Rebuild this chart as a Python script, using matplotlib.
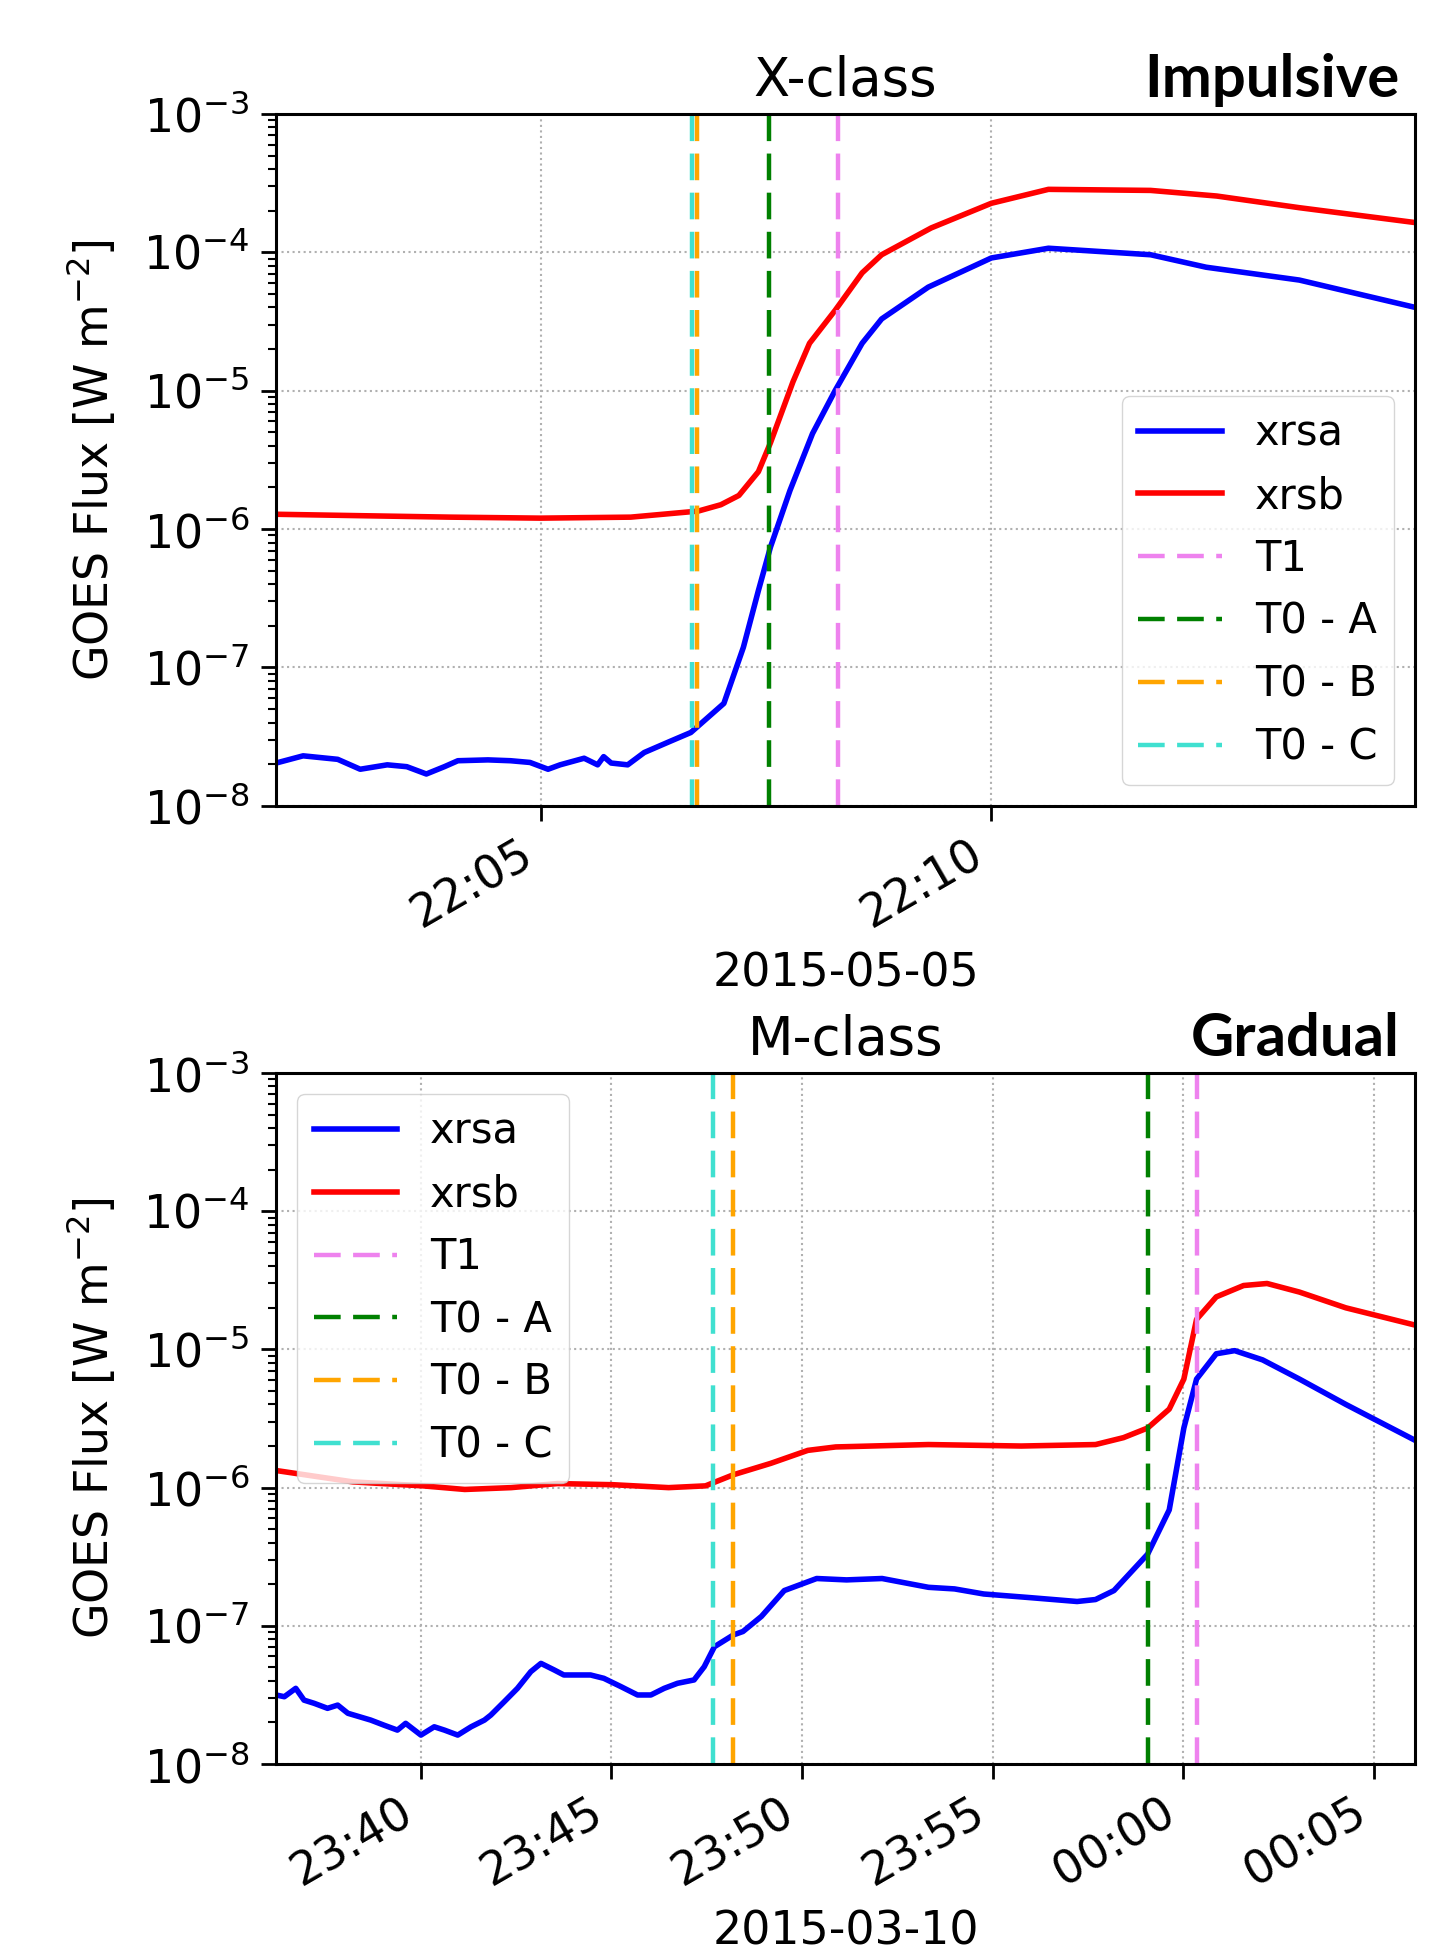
import matplotlib
matplotlib.use("Agg")
import matplotlib.pyplot as plt
import matplotlib.dates as mdates
import pandas as pd

# --- X-class (impulsive) flare, 2015-05-05 ---
top_a_time = ["22:02:04", "22:02:22", "22:02:45", "22:03:00", "22:03:18", "22:03:31",
              "22:03:44", "22:03:56", "22:04:05", "22:04:25", "22:04:40", "22:04:53",
              "22:05:05", "22:05:13", "22:05:29", "22:05:38", "22:05:42", "22:05:47",
              "22:05:58", "22:06:09", "22:06:26", "22:06:40", "22:07:02", "22:07:15",
              "22:07:25", "22:07:33", "22:07:46", "22:08:01", "22:08:16", "22:08:34",
              "22:08:47", "22:09:18", "22:10:00", "22:10:38", "22:11:46", "22:12:23",
              "22:13:25", "22:14:42"]
top_xrsa = [2.04e-8, 2.30e-8, 2.17e-8, 1.84e-8, 1.98e-8, 1.92e-8,
            1.70e-8, 1.92e-8, 2.12e-8, 2.15e-8, 2.12e-8, 2.06e-8,
            1.84e-8, 1.98e-8, 2.21e-8, 1.98e-8, 2.27e-8, 2.04e-8,
            1.98e-8, 2.43e-8, 2.92e-8, 3.39e-8, 5.5e-8, 1.4e-7,
            3.6e-7, 7.4e-7, 1.9e-6, 4.9e-6, 1.0e-5, 2.2e-5,
            3.3e-5, 5.6e-5, 9.1e-5, 1.07e-4, 9.6e-5, 7.8e-5,
            6.3e-5, 4.0e-5]

top_b_time = ["22:02:04", "22:03:00", "22:04:00", "22:05:00", "22:06:00", "22:06:45",
              "22:07:00", "22:07:12", "22:07:25", "22:07:33", "22:07:48", "22:07:59",
              "22:08:16", "22:08:34", "22:08:47", "22:09:20", "22:10:00", "22:10:38",
              "22:11:46", "22:12:30", "22:13:25", "22:14:42"]
top_xrsb = [1.28e-6, 1.25e-6, 1.22e-6, 1.2e-6, 1.22e-6, 1.35e-6,
            1.5e-6, 1.75e-6, 2.6e-6, 4.2e-6, 1.16e-5, 2.2e-5,
            3.8e-5, 7.1e-5, 9.6e-5, 1.5e-4, 2.26e-4, 2.85e-4,
            2.8e-4, 2.55e-4, 2.1e-4, 1.64e-4]

top_marks = ["22:08:18", "22:07:32", "22:06:44", "22:06:41"]  # T1, T0-A, T0-B, T0-C
top_xlim = ["22:02:04", "22:14:42"]

# --- M-class (gradual) flare, 2015-03-10 ---
bot_a_time = ["23:36:12", "23:36:25", "23:36:43", "23:36:56", "23:37:12", "23:37:33",
              "23:37:49", "23:38:05", "23:38:41", "23:39:02", "23:39:23", "23:39:36",
              "23:40:00", "23:40:21", "23:40:37", "23:40:58", "23:41:19", "23:41:40",
              "23:41:50", "23:42:11", "23:42:32", "23:42:53", "23:43:09", "23:43:30",
              "23:43:45", "23:44:27", "23:44:48", "23:45:15", "23:45:41", "23:46:02",
              "23:46:23", "23:46:44", "23:47:10", "23:47:26", "23:47:42", "23:48:12",
              "23:48:27", "23:48:56", "23:49:32", "23:50:23", "23:51:10", "23:52:06",
              "23:53:19", "23:54:00", "23:54:46", "23:55:59", "23:57:13", "23:57:42",
              "23:58:11", "23:59:04", "23:59:38", "00:00:01", "00:00:21", "00:00:52",
              "00:01:21", "00:02:05", "00:03:03", "00:04:16", "00:06:05"]
bot_xrsa = [3.16e-8, 3.07e-8, 3.53e-8, 2.90e-8, 2.75e-8, 2.53e-8,
            2.67e-8, 2.33e-8, 2.08e-8, 1.91e-8, 1.76e-8, 1.97e-8,
            1.62e-8, 1.86e-8, 1.76e-8, 1.62e-8, 1.86e-8, 2.08e-8,
            2.26e-8, 2.82e-8, 3.53e-8, 4.66e-8, 5.35e-8, 4.79e-8,
            4.41e-8, 4.41e-8, 4.17e-8, 3.63e-8, 3.16e-8, 3.16e-8,
            3.53e-8, 3.84e-8, 4.06e-8, 5.06e-8, 7.06e-8, 8.6e-8,
            9.1e-8, 1.17e-7, 1.8e-7, 2.2e-7, 2.15e-7, 2.2e-7,
            1.9e-7, 1.85e-7, 1.7e-7, 1.6e-7, 1.5e-7, 1.55e-7,
            1.8e-7, 3.3e-7, 6.9e-7, 2.7e-6, 6.1e-6, 9.3e-6,
            9.8e-6, 8.4e-6, 6.1e-6, 4.0e-6, 2.2e-6]

bot_b_time = ["23:36:12", "23:38:13", "23:40:03", "23:41:09", "23:42:22", "23:43:35",
              "23:45:02", "23:46:30", "23:47:28", "23:48:12", "23:49:11", "23:50:09",
              "23:50:53", "23:53:19", "23:55:45", "23:57:42", "23:58:26", "23:59:04",
              "23:59:38", "00:00:01", "00:00:21", "00:00:52", "00:01:35", "00:02:12",
              "00:03:03", "00:04:16", "00:06:05"]
bot_xrsb = [1.33e-6, 1.1e-6, 1.03e-6, 9.7e-7, 1.0e-6, 1.07e-6,
            1.05e-6, 1.0e-6, 1.03e-6, 1.24e-6, 1.5e-6, 1.86e-6,
            1.97e-6, 2.05e-6, 2.0e-6, 2.05e-6, 2.3e-6, 2.7e-6,
            3.7e-6, 6.1e-6, 1.65e-5, 2.4e-5, 2.9e-5, 3.0e-5,
            2.6e-5, 2.0e-5, 1.5e-5]

bot_marks = ["00:00:21", "23:59:04", "23:48:11", "23:47:40"]
bot_xlim = ["23:36:12", "00:06:05"]

mark_labels = ["T1", "T0 - A", "T0 - B", "T0 - C"]
mark_colors = ["violet", "green", "orange", "turquoise"]


def to_dt(times, day, prev_day=None):
    out = []
    for t in times:
        d = prev_day if (prev_day is not None and t.startswith("23")) else day
        out.append(pd.Timestamp(d + " " + t).to_pydatetime())
    return out


plt.rcParams['font.family'] = ['DejaVu Sans']
plt.rcParams['font.size'] = 30

fig = plt.figure(figsize=(14.53, 19.57), dpi=100)
ax1 = fig.add_axes([0.190, 0.5882, 0.7839, 0.3536])
ax2 = fig.add_axes([0.190, 0.0986, 0.7839, 0.3531])

panels = [
    (ax1, to_dt(top_a_time, "2015-05-05"), top_xrsa, to_dt(top_b_time, "2015-05-05"), top_xrsb,
     to_dt(top_marks, "2015-05-05"), to_dt(top_xlim, "2015-05-05"),
     "X-class", "Impulsive", "2015-05-05", "lower right"),
    (ax2, to_dt(bot_a_time, "2015-03-10", "2015-03-09"), bot_xrsa,
     to_dt(bot_b_time, "2015-03-10", "2015-03-09"), bot_xrsb,
     to_dt(bot_marks, "2015-03-10", "2015-03-09"), to_dt(bot_xlim, "2015-03-10", "2015-03-09"),
     "M-class", "Gradual", "2015-03-10", "upper left"),
]

for ax, ta, fa, tb, fb, marks, xlim, title, kind, date, loc in panels:
    ax.plot(ta, fa, color="blue", lw=4, label="xrsa")
    ax.plot(tb, fb, color="red", lw=4, label="xrsb")
    for m, lab, col in zip(marks, mark_labels, mark_colors):
        ax.axvline(m, color=col, lw=3.2, linestyle="--", dashes=(6, 2.8), label=lab)
    ax.set_yscale("log")
    ax.set_ylim(1e-8, 1e-3)
    ax.set_xlim(xlim[0], xlim[1])
    ax.xaxis.set_major_locator(mdates.MinuteLocator(byminute=range(0, 60, 5)))
    ax.xaxis.set_major_formatter(mdates.DateFormatter("%H:%M"))
    ax.grid(True, which="major", linestyle=":", color="#b0b0b0", lw=1.5)
    ax.tick_params(axis="both", which="major", length=11, width=2, pad=8, labelsize=33)
    ax.tick_params(axis="y", which="minor", length=6, width=1.5)
    for lbl in ax.get_xticklabels():
        lbl.set_rotation(30)
        lbl.set_ha("right")
    for sp in ax.spines.values():
        sp.set_linewidth(2.2)
    ax.set_ylabel(r"GOES Flux [W m$^{-2}$]", fontsize=33, labelpad=18)
    ax.set_xlabel(date, fontsize=33, labelpad=10)
    ax.set_title(title, fontsize=38, pad=13)
    ax.legend(loc=loc, fontsize=30, handlelength=2.0, framealpha=0.8)
    bb = ax.get_position()
    fig.text(0.963, bb.y1 + 0.0085, kind, ha="right", va="baseline",
             fontsize=43, fontweight="bold", family="Lato", color="black")

fig.savefig("out.png", dpi=100)
